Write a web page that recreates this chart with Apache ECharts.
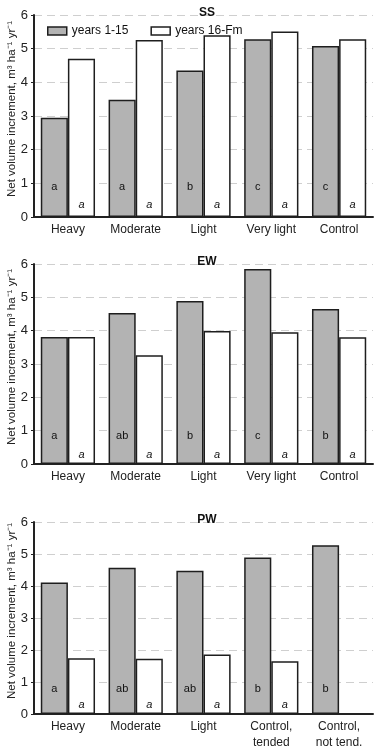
<!DOCTYPE html>
<html>
<head>
<meta charset="UTF-8">
<title>Net volume increment</title>
<style>
  html, body { margin: 0; padding: 0; background: #fff; }
  #chart { width: 375px; height: 746px; }
</style>
</head>
<body>
<div id="chart"></div>
<script src="https://cdn.jsdelivr.net/npm/echarts@6/dist/echarts.min.js"></script>
<script>
// categories per panel
var catsSS = ['Heavy', 'Moderate', 'Light', 'Very light', 'Control'];
var catsEW = ['Heavy', 'Moderate', 'Light', 'Very light', 'Control'];
var catsPW = ['Heavy', 'Moderate', 'Light', 'Control,\ntended', 'Control,\nnot tend.'];

// years 1-15
var earlySS = [2.95, 3.48, 4.35, 5.28, 5.08];
var earlyEW = [3.81, 4.53, 4.89, 5.85, 4.65];
var earlyPW = [4.11, 4.57, 4.48, 4.89, 5.27];

// years 16-Fm
var lateSS = [4.70, 5.26, 5.40, 5.51, 5.28];
var lateEW = [3.81, 3.26, 3.99, 3.95, 3.80];
var latePW = [1.74, 1.73, 1.86, 1.65, null];

// significance letters
var earlyLetSS = ['a', 'a', 'b', 'c', 'c'];
var earlyLetEW = ['a', 'ab', 'b', 'c', 'b'];
var earlyLetPW = ['a', 'ab', 'ab', 'b', 'b'];
var lateLetSS = ['a', 'a', 'a', 'a', 'a'];
var lateLetEW = ['a', 'a', 'a', 'a', 'a'];
var lateLetPW = ['a', 'a', 'a', 'a', ''];

var titles = ['SS', 'EW', 'PW'];
var yTicks = ['0', '1', '2', '3', '4', '5', '6'];

var FONT = 'Liberation Sans, Arial, sans-serif';
var GRAY = '#b3b3b3';
var EDGE = '#1e1e1e';

var panels = [
  { cats: catsSS, early: earlySS, late: lateSS, eL: earlyLetSS, lL: lateLetSS, top: 15, h: 202, gd: 25, wd: 7 },
  { cats: catsEW, early: earlyEW, late: lateEW, eL: earlyLetEW, lL: lateLetEW, top: 264, h: 200, gd: 23, wd: 4 },
  { cats: catsPW, early: earlyPW, late: latePW, eL: earlyLetPW, lL: lateLetPW, top: 522, h: 192, gd: 20, wd: 4 }
];

var grids = [], xAxes = [], yAxes = [], series = [], titleOpts = [];

panels.forEach(function (p, i) {
  grids.push({ left: 34, right: 2, top: p.top, height: p.h, outerBoundsMode: 'none', containLabel: false });
  titleOpts.push({
    text: titles[i],
    left: 202, textAlign: 'center',
    top: p.top - 13,
    textStyle: { fontFamily: FONT, fontSize: 12, fontWeight: 'bold', color: '#111' }
  });
  xAxes.push({
    type: 'category', gridIndex: i, data: p.cats,
    axisLine: { lineStyle: { color: '#222', width: 2 } },
    axisTick: { show: false },
    axisLabel: { color: '#222', fontFamily: FONT, fontSize: 12, margin: 5, interval: 0, lineHeight: 16 }
  });
  yAxes.push({
    type: 'value', gridIndex: i, min: 0, max: 6, interval: 1,
    name: 'Net volume increment, m\u00b3 ha\u207b\u00b9 yr\u207b\u00b9',
    nameLocation: 'middle', nameGap: 16, nameMoveOverlap: false,
    nameTextStyle: { fontFamily: FONT, fontSize: 11.5, color: '#222', padding: [0, 0, 0, 14] },
    axisLine: { show: true, lineStyle: { color: '#222', width: 2 } },
    axisTick: { show: true, length: 3, lineStyle: { color: '#222' } },
    axisLabel: {
      color: '#222', fontFamily: FONT, fontSize: 13, margin: 6,
      formatter: function (v) { return yTicks[v]; }
    },
    splitLine: { show: true, lineStyle: { color: '#cfcfcf', type: [8, 5], width: 1 } }
  });
  series.push({
    name: 'years 1-15', type: 'bar', xAxisIndex: i, yAxisIndex: i,
    data: p.early, barWidth: '40%', barGap: '0%',
    itemStyle: { color: GRAY, borderColor: EDGE, borderWidth: 1.5 },
    label: {
      show: true, position: 'insideBottom', distance: p.gd,
      fontFamily: FONT, fontSize: 11, color: '#111',
      formatter: function (q) { return p.eL[q.dataIndex]; }
    }
  });
  series.push({
    name: 'years 16-Fm', type: 'bar', xAxisIndex: i, yAxisIndex: i,
    data: p.late, barWidth: '40%', barGap: '0%',
    itemStyle: { color: '#fff', borderColor: EDGE, borderWidth: 1.5 },
    label: {
      show: true, position: 'insideBottom', distance: p.wd,
      fontFamily: FONT, fontSize: 11, fontStyle: 'italic', color: '#111',
      formatter: function (q) { return p.lL[q.dataIndex]; }
    }
  });
});

var chart = echarts.init(document.getElementById('chart'));
chart.setOption({
  animation: false,
  title: titleOpts,
  legend: {
    data: [
      { name: 'years 1-15', icon: 'rect' },
      { name: 'years 16-Fm', icon: 'rect' }
    ],
    left: 42, top: 20,
    itemWidth: 19, itemHeight: 8, itemGap: 22,
    itemStyle: { borderColor: EDGE, borderWidth: 1.5 },
    textStyle: { fontFamily: FONT, fontSize: 12, color: '#111' }
  },
  grid: grids,
  xAxis: xAxes,
  yAxis: yAxes,
  series: series
});
</script>
</body>
</html>
